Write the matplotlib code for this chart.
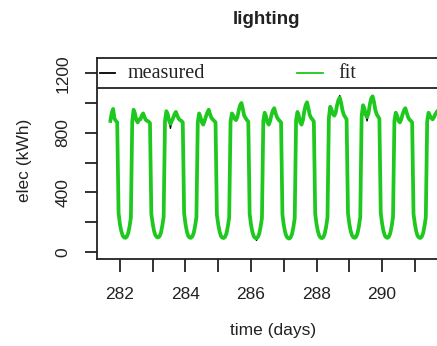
import numpy as np
import matplotlib
matplotlib.use("Agg")
import matplotlib.pyplot as plt
from matplotlib.lines import Line2D

# hourly electricity for lighting (kWh), one row per day, hours 0..23
start_day = 281
start_hour = 17
day281 = [880, 935, 960, 895, 880, 870, 260]  # hours 17..23
days = [
    [185, 140, 110, 98, 95, 102, 125, 170, 230, 875, 955, 930, 885, 870, 890, 890, 915, 930, 905, 885, 880, 875, 865, 255],
    [190, 140, 112, 100, 98, 105, 128, 175, 235, 880, 945, 925, 880, 860, 880, 900, 925, 940, 915, 895, 885, 880, 870, 260],
    [188, 138, 108, 97, 95, 104, 126, 172, 232, 870, 930, 905, 870, 855, 880, 910, 935, 955, 925, 900, 890, 880, 870, 250],
    [185, 136, 106, 96, 94, 102, 124, 170, 230, 875, 930, 915, 895, 885, 905, 950, 985, 1000, 960, 915, 900, 885, 875, 255],
    [182, 135, 105, 95, 92, 100, 122, 168, 228, 880, 935, 910, 870, 855, 880, 920, 950, 965, 930, 905, 890, 880, 870, 250],
    [180, 132, 104, 94, 90, 98, 120, 166, 226, 885, 940, 915, 870, 855, 885, 945, 985, 1005, 965, 920, 900, 890, 875, 255],
    [185, 138, 108, 96, 93, 100, 124, 170, 232, 900, 975, 955, 925, 915, 935, 985, 1020, 1035, 1000, 950, 920, 905, 890, 260],
    [188, 140, 110, 98, 95, 102, 126, 172, 234, 910, 985, 965, 920, 905, 930, 990, 1030, 1045, 1010, 955, 925, 910, 895, 262],
    [190, 140, 110, 98, 95, 103, 127, 173, 235, 880, 935, 915, 880, 870, 890, 925, 950, 965, 935, 905, 890, 880, 870, 255],
    [188, 138, 108, 97, 94, 102, 125, 172, 232, 875, 935, 915, 900, 890, 905, 925, 940, 950, 925, 900, 890, 880, 870, 255],
]
# spots where the measured series shows below the fit
measured_diff = {(283, 13): 830, (289, 13): 880, (288, 17): 1050, (286, 4): 78}

fit = list(day281)
for row in days:
    fit += row
fit = np.array(fit, dtype=float)
t = start_day + (start_hour + np.arange(len(fit))) / 24.0

measured = fit.copy()
for (d, h), v in measured_diff.items():
    idx = (d - start_day) * 24 + h - start_hour
    measured[idx] = v

green = "#1ec81e"
ink = "#222222"
sans = "Liberation Sans"

fig = plt.figure(figsize=(4.37, 3.46), dpi=100)
W, H = 437, 346
ax = fig.add_axes([97 / W, (H - 259) / H, 350 / W, 201 / H])

ax.plot(t, measured, color="black", lw=1.0)
ax.plot(t, fit, color=green, lw=2.7)
ax.axhline(1100, color=ink, lw=1.3)

ax.set_xlim(281.3, 291.98)
ax.set_ylim(-47, 1302)

for s in ax.spines.values():
    s.set_color(ink)
    s.set_linewidth(1.3)

ax.set_xticks(np.arange(282, 292))
ax.set_xticklabels([str(d) if d % 2 == 0 else "" for d in range(282, 292)])
ax.set_yticks(np.arange(0, 1201, 200))
ax.set_yticklabels([str(v) if v % 400 == 0 else "" for v in range(0, 1201, 200)],
                   rotation=90, va="center")
ax.tick_params(axis="both", length=9, width=1.3, color=ink, labelcolor=ink,
               labelsize=12.5)
ax.tick_params(axis="x", pad=11)
ax.tick_params(axis="y", pad=10)
for lab in ax.get_xticklabels() + ax.get_yticklabels():
    lab.set_fontfamily(sans)

# legend drawn across the top strip
fig.add_artist(Line2D([100 / W, 115 / W], [(H - 73) / H] * 2, color="black", lw=1.3))
fig.text(128 / W, (H - 73) / H, "measured", family="Liberation Serif",
         fontsize=14.5, color=ink, va="center")
fig.add_artist(Line2D([297 / W, 323 / W], [(H - 73) / H] * 2, color=green, lw=1.3))
fig.text(338 / W, (H - 73) / H, "fit", family="Liberation Serif",
         fontsize=14.5, color=ink, va="center")

fig.text(267 / W, (H - 20) / H, "lighting", family=sans, fontweight="bold",
         fontsize=13.5, color=ink, ha="center", va="center")
fig.text(273 / W, (H - 330) / H, "time (days)", family=sans, fontsize=12.5,
         color=ink, ha="center", va="center")
fig.text(25 / W, (H - 160) / H, "elec (kWh)", family=sans, fontsize=12.5,
         color=ink, ha="center", va="center", rotation=90)

fig.savefig("out.png", dpi=100)
